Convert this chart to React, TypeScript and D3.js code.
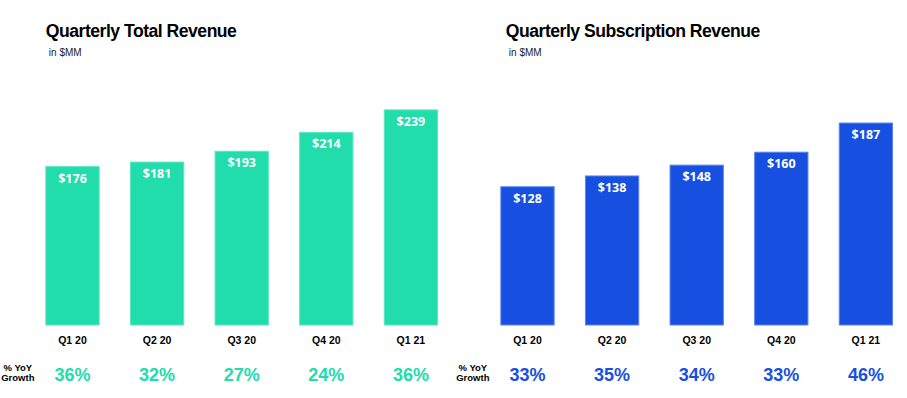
import React from 'react';
import * as d3 from 'd3';

const quarters = ['Q1 20', 'Q2 20', 'Q3 20', 'Q4 20', 'Q1 21'];
const totalRevenue = [176, 181, 193, 214, 239];
const totalGrowth = [36, 32, 27, 24, 36];
const subRevenue = [128, 138, 148, 160, 187];
const subGrowth = [33, 35, 34, 33, 46];

const W = 907;
const H = 398;
const baseY = 325;
const plotTop = 55;

const Panel = ({ title, values, growth, color, stroke, x0, x1, yMax, titleShift }) => {
  // band scale across the quarters, linear scale for $MM
  const x = d3.scaleBand().domain(quarters).range([x0, x1]).paddingInner(0.37).paddingOuter(0.185);
  const y = d3.scaleLinear().domain([0, yMax]).range([baseY, plotTop]);
  const left = x(quarters[0]);

  return (
    <g>
      <text x={left + titleShift} y={37} fontFamily="Liberation Sans, Arial, sans-serif" fontWeight="bold"
        fontSize={17.6} letterSpacing={-0.5} fill="#000">{title}</text>
      <text x={left + titleShift + 3} y={56} fontFamily="Liberation Sans, Arial, sans-serif" fontSize={10} fill="#222">in $MM</text>

      {values.map((v, i) => {
        const q = quarters[i];
        const bx = x(q);
        const cx = bx + x.bandwidth() / 2;
        return (
          <g key={q}>
            <rect x={bx} y={y(v)} width={x.bandwidth()} height={baseY - y(v)}
              fill={color} stroke={stroke} strokeWidth={1} />
            <text x={cx} y={y(v) + 16} textAnchor="middle" fontFamily="Open Sans, sans-serif"
              fontWeight="bold" fontSize={12.5} fill="#fff">${v}</text>
            <text x={cx} y={344} textAnchor="middle" fontFamily="Liberation Sans, Arial, sans-serif"
              fontWeight="bold" fontSize={10.5} fill="#000">{q}</text>
            <text x={cx} y={381} textAnchor="middle" fontFamily="Liberation Sans, Arial, sans-serif"
              fontWeight="bold" fontSize={18} fill={color}>{growth[i]}%</text>
          </g>
        );
      })}

      <text x={left - 28} y={371} textAnchor="middle" fontFamily="Liberation Sans, Arial, sans-serif"
        fontWeight="bold" fontSize={9.5} fill="#000">
        <tspan x={left - 28} dy={0}>% YoY</tspan>
        <tspan x={left - 28} dy={10}>Growth</tspan>
      </text>
    </g>
  );
};

export default function App() {
  return (
    <svg width={W} height={H} style={{ display: 'block', position: 'absolute', left: 0, top: 0 }}>
      <rect width={W} height={H} fill="#fff" />
      <Panel title="Quarterly Total Revenue" values={totalRevenue} growth={totalGrowth}
        color="#21dcab" stroke="#5ce6c2" x0={30.2} x1={453.2} yMax={300} titleShift={0} />
      <Panel title="Quarterly Subscription Revenue" values={subRevenue} growth={subGrowth}
        color="#1750e0" stroke="#5a84ea" x0={485.2} x1={908.2} yMax={250} titleShift={5} />
    </svg>
  );
}
